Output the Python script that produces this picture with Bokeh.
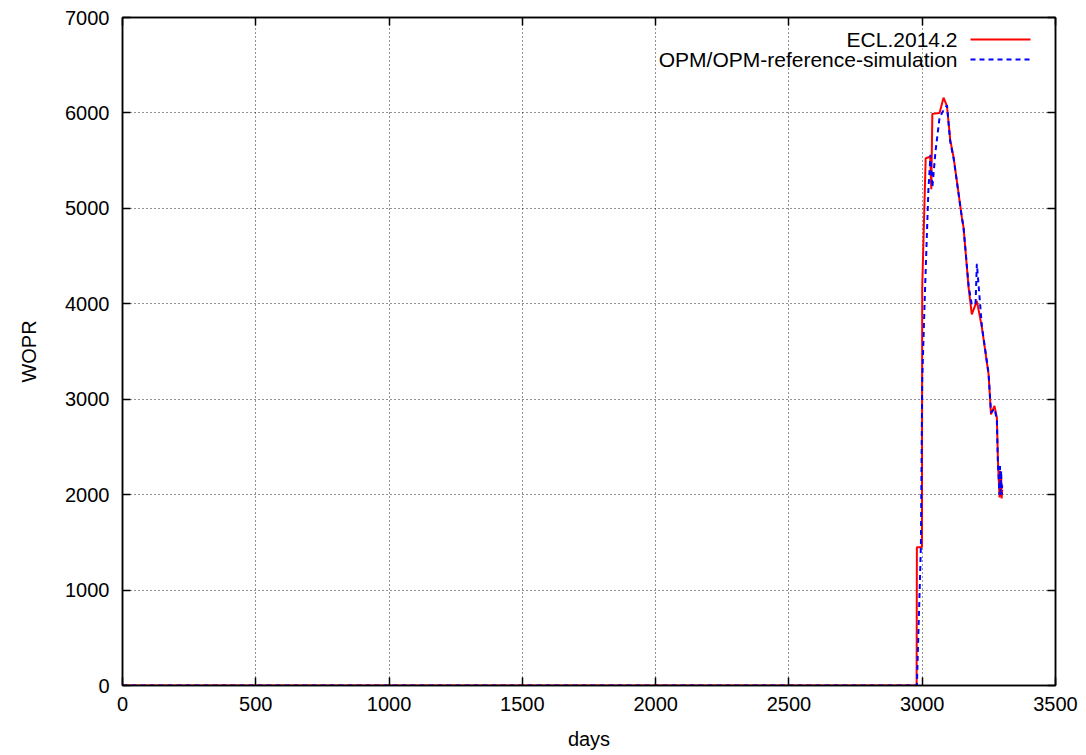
from bokeh.plotting import figure
from bokeh.models import (ColumnDataSource, LinearAxis, Range1d, FixedTicker,
                          Label, Arrow)
from bokeh.embed import file_html
from bokeh.resources import INLINE

# ---- data ----
ecl_days = [0, 2979, 2980, 2999, 3000, 3013, 3030, 3034, 3038, 3065, 3080, 3093,
            3105, 3118, 3149, 3155, 3174, 3186, 3205, 3224, 3249, 3258, 3271,
            3280, 3284, 3290, 3292, 3294, 3296, 3298, 3300]
ecl_wopr = [0, 0, 1450, 1450, 4170, 5525, 5540, 5200, 5990, 6000, 6160, 6070,
            5720, 5530, 4900, 4800, 4170, 3890, 4030, 3750, 3260, 2840, 2930,
            2810, 2360, 1970, 2250, 1990, 2200, 1960, 2050]

opm_days = [0, 2980, 2995, 3000, 3010, 3023, 3031, 3038, 3050, 3065, 3080, 3093,
            3105, 3118, 3149, 3155, 3174, 3186, 3200, 3205, 3224, 3249, 3258,
            3271, 3280, 3284, 3290, 3292, 3294, 3296, 3298, 3300]
opm_wopr = [0, 0, 1450, 3200, 4100, 5180, 5560, 5220, 5600, 5950, 6030, 6080,
            5700, 5520, 4900, 4800, 4190, 3990, 4000, 4420, 3760, 3270, 2860,
            2900, 2790, 2330, 2000, 2300, 2030, 2250, 2000, 2100]

x_ticks = [0, 500, 1000, 1500, 2000, 2500, 3000, 3500]
y_ticks = [0, 1000, 2000, 3000, 4000, 5000, 6000, 7000]
series_names = ["ECL.2014.2", "OPM/OPM-reference-simulation"]

FONT = "Liberation Sans"
FS = "20px"

p = figure(width=1086, height=755, output_backend="svg", toolbar_location=None,
           x_range=Range1d(0, 3500), y_range=Range1d(0, 7000),
           min_border_left=122, min_border_right=31, min_border_top=17,
           min_border_bottom=70, x_axis_label="days", y_axis_label="WOPR")
p.outline_line_color = "black"
p.outline_line_width = 1.5
p.background_fill_color = "white"
p.border_fill_color = "white"

for ax, ticks in ((p.xaxis[0], x_ticks), (p.yaxis[0], y_ticks)):
    ax.ticker = FixedTicker(ticks=ticks)
    ax.major_tick_in = 8
    ax.major_tick_out = 0
    ax.minor_tick_in = 0
    ax.minor_tick_out = 0
    ax.axis_line_width = 1.5
    ax.major_tick_line_width = 1.5
    ax.major_label_text_font = FONT
    ax.major_label_text_font_size = FS
    ax.major_label_text_color = "black"
    ax.axis_label_text_font = FONT
    ax.axis_label_text_font_size = FS
    ax.axis_label_text_font_style = "normal"
    ax.axis_label_text_color = "black"
p.xaxis.major_label_standoff = 11
p.yaxis.major_label_standoff = 13
p.xaxis.axis_label_standoff = 14
p.yaxis.axis_label_standoff = 22

# mirrored ticks (no labels)
for loc, ticks in (("above", x_ticks), ("right", y_ticks)):
    ax = LinearAxis(ticker=FixedTicker(ticks=ticks), major_tick_in=8,
                    major_tick_out=0, minor_tick_in=0, minor_tick_out=0,
                    major_label_overrides={t: "" for t in ticks},
                    major_label_standoff=0,
                    axis_line_width=1.5, major_tick_line_width=1.5)
    p.add_layout(ax, loc)

for g in p.grid:
    g.grid_line_color = "black"
    g.grid_line_dash = "1 3"
    g.grid_line_width = 1
    g.grid_line_alpha = 0.85
p.xgrid.ticker = FixedTicker(ticks=x_ticks)
p.ygrid.ticker = FixedTicker(ticks=y_ticks)

src_e = ColumnDataSource(dict(x=ecl_days, y=ecl_wopr))
src_o = ColumnDataSource(dict(x=opm_days, y=opm_wopr))
p.line("x", "y", source=src_e, line_color="#ff0000", line_width=2)
p.line("x", "y", source=src_o, line_color="#0000ff", line_width=2,
       line_dash="5 4")

# gnuplot-style legend (text right-aligned, sample to the right), frame-relative screen units
colors = ["#ff0000", "#0000ff"]
dashes = ["solid", "5 4"]
for i, name in enumerate(series_names):
    ys = 646 - i * 20
    p.add_layout(Label(x=835, y=ys, x_units="screen", y_units="screen",
                       text=name, text_align="right", text_baseline="middle",
                       text_font=FONT, text_font_size="21px", text_color="black"))
    p.add_layout(Arrow(end=None, x_start=848, x_end=908, y_start=ys, y_end=ys,
                       start_units="screen", end_units="screen",
                       line_color=colors[i], line_width=2, line_dash=dashes[i]))

open("out.html", "w").write(file_html(p, INLINE))
